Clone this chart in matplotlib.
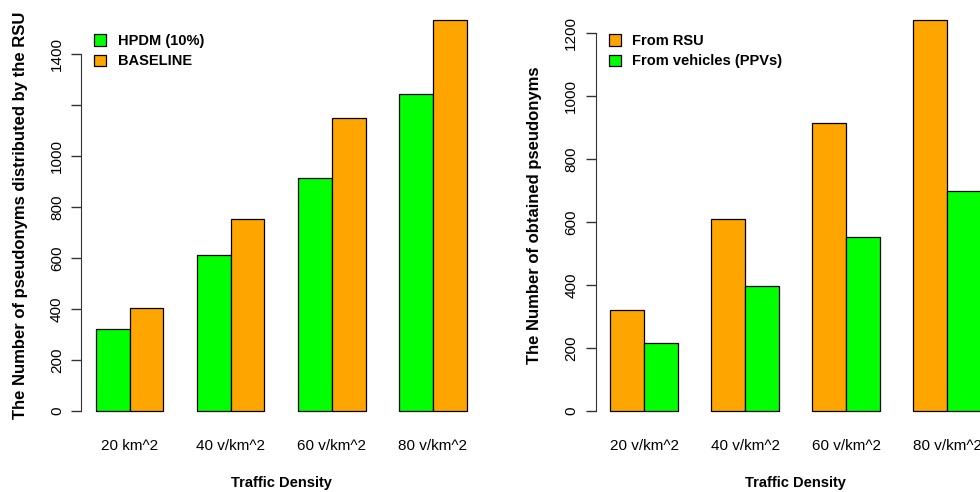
import numpy as np
import matplotlib
matplotlib.use("Agg")
import matplotlib.pyplot as plt
from matplotlib.patches import Patch

plt.rcParams["font.family"] = ["Liberation Sans", "DejaVu Sans"]

GREEN = "#00FF00"
ORANGE = "#FFA500"

# left panel
left_labels = ["20 km^2", "40 v/km^2", "60 v/km^2", "80 v/km^2"]
hpdm = [320, 611, 915, 1242]
baseline = [402, 754, 1151, 1533]
left_yticks = [0, 200, 400, 600, 800, 1000, 1200, 1400]
left_yticklabels = ["0", "200", "400", "600", "800", "1000", "", "1400"]

# right panel
right_labels = ["20 v/km^2", "40 v/km^2", "60 v/km^2", "80 v/km^2"]
from_rsu = [320, 611, 915, 1242]
from_vehicles = [215, 398, 553, 700]
right_yticks = [0, 200, 400, 600, 800, 1000, 1200]


def r_barplot(ax, first, second, colors, names, xlabels, yticks, yticklabels, ylabel):
    n = len(first)
    # R barplot(beside=TRUE) layout: one bar gap before each group of two
    x1 = np.arange(n) * 3 + 1.5
    x2 = x1 + 1
    kw = dict(width=1.0, edgecolor="black", linewidth=0.9)
    ax.bar(x1, first, color=colors[0], label=names[0], **kw)
    ax.bar(x2, second, color=colors[1], label=names[1], **kw)

    top = max(max(first), max(second))
    ax.set_xlim(1 - 0.44, 3 * n + 0.44)
    ax.set_ylim(-0.04 * top, 1.04 * top)

    for side in ["top", "right", "bottom"]:
        ax.spines[side].set_visible(False)
    ax.spines["left"].set_bounds(yticks[0], yticks[-1])
    ax.spines["left"].set_color("#333333")

    ax.set_xticks(x1 + 0.5)
    ax.set_xticklabels(xlabels, fontsize=11)
    ax.tick_params(axis="x", length=0, pad=9)

    ax.set_yticks(yticks)
    ax.set_yticklabels(yticklabels, fontsize=11, rotation=90, va="center")
    ax.tick_params(axis="y", length=7, width=1, color="#333333", pad=5.5)

    ax.set_xlabel("Traffic Density", fontsize=10.5, fontweight="bold", labelpad=17)
    ax.set_ylabel(ylabel, fontsize=12, fontweight="bold", labelpad=16)

    handles = [Patch(facecolor=colors[0], edgecolor="black", linewidth=0.9),
               Patch(facecolor=colors[1], edgecolor="black", linewidth=0.9)]
    ax.legend(handles, names, loc="upper left", bbox_to_anchor=(0.0325, 0.93),
              frameon=False, prop={"weight": "bold", "size": 10.5},
              handlelength=0.82, handleheight=0.82, handletextpad=0.8,
              labelspacing=0.42, borderpad=0, borderaxespad=0)


fig = plt.figure(figsize=(9.8, 4.92), dpi=100)
ax_l = fig.add_axes([0.0829, 0.1335, 0.4083, 0.857])
ax_r = fig.add_axes([0.6077, 0.1335, 0.4082, 0.857])

r_barplot(ax_l, hpdm, baseline, [GREEN, ORANGE], ["HPDM (10%)", "BASELINE"],
          left_labels, left_yticks, left_yticklabels,
          "The Number of pseudonyms distributed by the RSU")
r_barplot(ax_r, from_rsu, from_vehicles, [ORANGE, GREEN], ["From RSU", "From vehicles (PPVs)"],
          right_labels, right_yticks, [str(v) for v in right_yticks],
          "The Number of obtained pseudonyms")

fig.savefig("out.png", dpi=100)
